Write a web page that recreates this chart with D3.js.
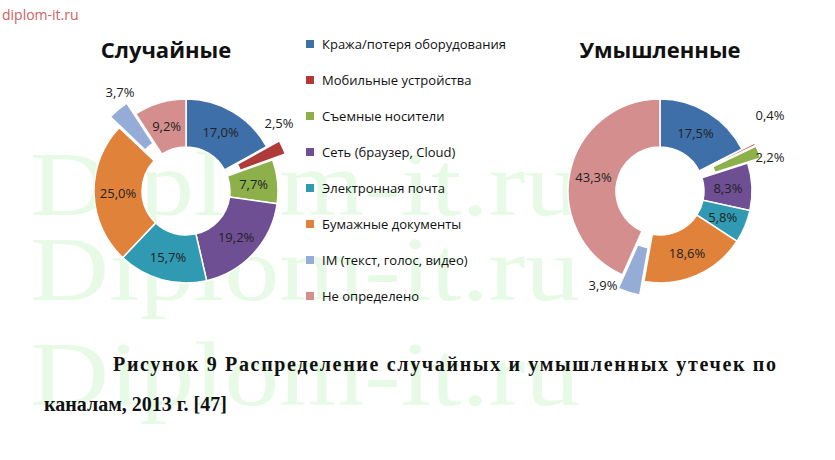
<!DOCTYPE html><html><head><meta charset="utf-8">
<script src="https://cdn.jsdelivr.net/npm/d3@7"></script>
<style>body{margin:0;background:#fff}</style></head><body>
<svg id="c" width="835" height="460"></svg>
<script>
const categories=["Кража/потеря оборудования","Мобильные устройства","Съемные носители","Сеть (браузер, Cloud)","Электронная почта","Бумажные документы","IM (текст, голос, видео)","Не определено"];
const accidental=[17.0,2.5,7.7,19.2,15.7,25.0,3.7,9.2];
const intentional=[17.5,0.4,2.2,8.3,5.8,18.6,3.9,43.3];
const colors=["#3f6fa8","#b03a3a","#8db04a","#6e4f93","#2f9ab1","#e0823a","#95acd6","#d48e8e"];
const explodedA=[1,6], explodedI=[1,2,6];
const outsideA={1:[279,128],6:[120,97]}, outsideI={1:[770,120],2:[770,162],6:[603,290]};
const svg=d3.select("#c");
const fmt=v=>v.toFixed(1).replace(".",",")+"%";
[215,300,405].forEach(y=>svg.append("text").attr("x",30).attr("y",y).attr("textLength",550).attr("lengthAdjust","spacingAndGlyphs").attr("font-family","Liberation Serif").attr("font-size",90).attr("fill","#d2f7d2").attr("opacity",0.55).text("Diplom-it.ru"));
function donut(data,cx,cy,exploded,outside,title,tx){
  const pie=d3.pie().sort(null).value(d=>d)(data);
  const arc=d3.arc().innerRadius(44).outerRadius(92);
  const g=svg.append("g").attr("transform",`translate(${cx},${cy})`);
  pie.forEach((p,i)=>{
    let dx=0,dy=0;
    if(exploded.includes(i)){const a=(p.startAngle+p.endAngle)/2;dx=Math.sin(a)*14;dy=-Math.cos(a)*14;}
    g.append("path").attr("d",arc(p)).attr("transform",`translate(${dx},${dy})`).attr("fill",colors[i]).attr("stroke","#fff").attr("stroke-width",1.5);
    if(outside[i]) svg.append("text").attr("x",outside[i][0]).attr("y",outside[i][1]).attr("text-anchor","middle").attr("font-family","Open Sans").attr("font-size",13).attr("fill","#222").text(fmt(data[i]));
    else {const c=arc.centroid(p);g.append("text").attr("x",c[0]).attr("y",c[1]+5).attr("text-anchor","middle").attr("font-family","Open Sans").attr("font-size",13).attr("fill","#222").text(fmt(data[i]));}
  });
  svg.append("text").attr("x",tx).attr("y",58).attr("text-anchor","middle").attr("font-family","Open Sans").attr("font-weight","bold").attr("font-size",22).attr("fill","#111").text(title);
}
donut(accidental,186,191,explodedA,outsideA,"Случайные",166);
donut(intentional,660,191,explodedI,outsideI,"Умышленные",660);
const ly=d3.scalePoint().domain(categories).range([44,296]);
categories.forEach((c,i)=>{
  svg.append("rect").attr("x",306).attr("y",ly(c)-4).attr("width",8).attr("height",8).attr("fill",colors[i]);
  svg.append("text").attr("x",322).attr("y",ly(c)+4.5).attr("font-family","Open Sans").attr("font-size",13).attr("fill","#111").text(c);
});
svg.append("text").attr("x",2).attr("y",20).attr("font-family","Open Sans").attr("font-size",14).attr("fill","#d06060").text("diplom-it.ru");
svg.append("text").attr("x",113).attr("y",371).attr("textLength",663).attr("lengthAdjust","spacing").attr("font-family","Liberation Serif").attr("font-weight","bold").attr("font-size",20).attr("fill","#111").text("Рисунок 9 Распределение случайных и умышленных утечек по");
svg.append("text").attr("x",44).attr("y",411).attr("font-family","Liberation Serif").attr("font-weight","bold").attr("font-size",20).attr("fill","#111").text("каналам, 2013 г. [47]");
</script></body></html>
